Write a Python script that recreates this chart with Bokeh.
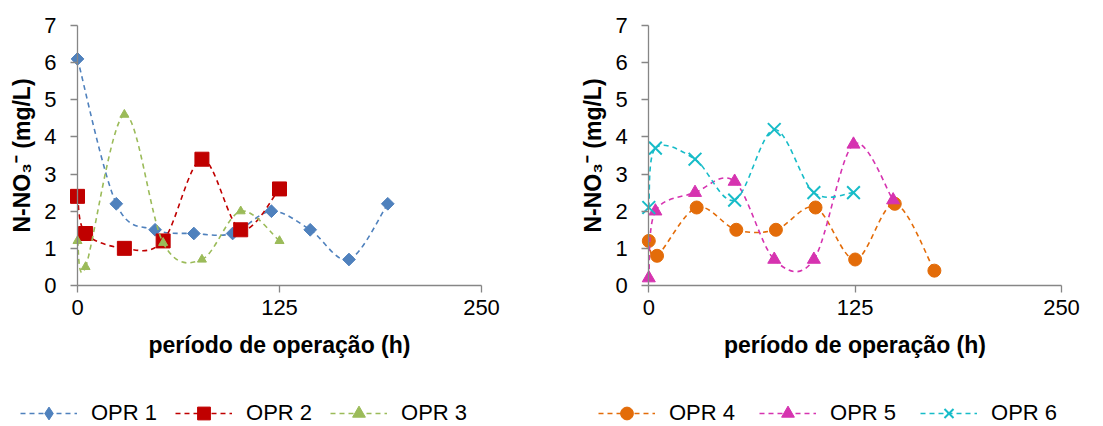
import math
from bokeh.plotting import figure
from bokeh.layouts import row
from bokeh.models import (Legend, LegendItem, FixedTicker, ColumnDataSource,
                          LinearAxis, Range1d)
from bokeh.embed import file_html
from bokeh.resources import INLINE

# ---- data ----
x_opr1 = [0, 24, 48, 72, 96, 120, 144, 168, 192]
y_opr1 = [6.1, 2.2, 1.5, 1.4, 1.4, 2.0, 1.5, 0.7, 2.2]
x_opr2 = [0, 5, 29, 53, 77, 101, 125]
y_opr2 = [2.4, 1.4, 1.0, 1.2, 3.4, 1.5, 2.6]
x_opr3 = [0, 5, 29, 53, 77, 101, 125]
y_opr3 = [1.2, 0.5, 4.6, 1.15, 0.7, 2.0, 1.2]
x_opr4 = [0, 5, 29, 53, 77, 101, 125, 149, 173]
y_opr4 = [1.2, 0.8, 2.1, 1.5, 1.5, 2.1, 0.7, 2.2, 0.4]
x_opr5 = [0, 4, 28, 52, 76, 100, 124, 148]
y_opr5 = [0.2, 2.0, 2.5, 2.8, 0.7, 0.7, 3.8, 2.3]
x_opr6 = [0, 4, 28, 52, 76, 100, 124]
y_opr6 = [2.1, 3.7, 3.4, 2.3, 4.2, 2.5, 2.5]

x_ticks = [0, 125, 250]
y_ticks = [0, 1, 2, 3, 4, 5, 6, 7]
x_lim = (0, 250)
y_lim = (0, 7)
x_title = "período de operação (h)"
y_title = "N-NO\u2083\u207b (mg/L)"

FONT = "Liberation Sans"
DASH = "5 4"
FIG_H = 426
NAN = float("nan")


def smooth_segments(xs, ys):
    """Catmull-Rom style Bezier control points (like Excel smoothed lines)."""
    n = len(xs)
    d = dict(x0=[], y0=[], x1=[], y1=[], cx0=[], cy0=[], cx1=[], cy1=[])
    for i in range(n - 1):
        p0 = (xs[max(i - 1, 0)], ys[max(i - 1, 0)])
        p1 = (xs[i], ys[i])
        p2 = (xs[i + 1], ys[i + 1])
        p3 = (xs[min(i + 2, n - 1)], ys[min(i + 2, n - 1)])
        d["x0"].append(p1[0]); d["y0"].append(p1[1])
        d["x1"].append(p2[0]); d["y1"].append(p2[1])
        d["cx0"].append(p1[0] + (p2[0] - p0[0]) / 6)
        d["cy0"].append(p1[1] + (p2[1] - p0[1]) / 6)
        d["cx1"].append(p2[0] - (p3[0] - p1[0]) / 6)
        d["cy1"].append(p2[1] - (p3[1] - p1[1]) / 6)
    return ColumnDataSource(d)


def make_fig(fig_w, plot_left, plot_right, plot_top, plot_bottom, series,
             leg_x, leg_spacing):
    # the frame fills the whole figure; the plot box sits at the given pixels
    xs_per_px = (x_lim[1] - x_lim[0]) / (plot_right - plot_left)
    ys_per_px = (y_lim[1] - y_lim[0]) / (plot_bottom - plot_top)
    xr = Range1d(x_lim[0] - plot_left * xs_per_px,
                 x_lim[1] + (fig_w - plot_right) * xs_per_px)
    yr = Range1d(y_lim[0] - (FIG_H - plot_bottom) * ys_per_px,
                 y_lim[1] + plot_top * ys_per_px)
    p = figure(width=fig_w, height=FIG_H, x_range=xr, y_range=yr,
               output_backend="svg", toolbar_location=None,
               x_axis_location=None, y_axis_location=None,
               min_border=0)
    p.outline_line_color = None
    p.grid.visible = False
    p.background_fill_color = "white"
    p.border_fill_color = "white"

    xa = LinearAxis(fixed_location=y_lim[0], bounds=x_lim,
                    ticker=FixedTicker(ticks=x_ticks), axis_label=x_title)
    ya = LinearAxis(fixed_location=x_lim[0], bounds=y_lim,
                    ticker=FixedTicker(ticks=y_ticks), axis_label=y_title)
    for ax in (xa, ya):
        ax.axis_line_color = "#868686"
        ax.axis_line_width = 1.3
        ax.major_tick_line_color = "#868686"
        ax.major_tick_line_width = 1.3
        ax.major_tick_in = 0
        ax.major_tick_out = 7
        ax.minor_tick_line_color = None
        ax.major_label_text_font = FONT
        ax.major_label_text_font_size = "22px"
        ax.major_label_text_color = "black"
        ax.axis_label_text_font = FONT
        ax.axis_label_text_font_size = "23px"
        ax.axis_label_text_font_style = "bold"
        ax.axis_label_text_color = "black"
    xa.major_label_standoff = 7
    ya.major_label_standoff = 14
    xa.axis_label_standoff = 14
    ya.axis_label_standoff = 6
    p.add_layout(xa, "below")
    p.add_layout(ya, "left")

    items = []
    for (xs, ys, name, color, marker, size, angle, lw, leg_marker) in series:
        src = smooth_segments(xs, ys)
        p.bezier(x0="x0", y0="y0", x1="x1", y1="y1", cx0="cx0", cy0="cy0",
                 cx1="cx1", cy1="cy1", source=src, line_color=color,
                 line_width=1.6, line_dash=DASH)
        # one-point line: invisible in the plot, gives the dashed legend sample
        leg_line = p.line(x=xs[:1], y=ys[:1], line_color=color, line_width=1.6,
                          line_dash=DASH)
        sc = p.scatter(x=xs, y=ys, marker=marker, size=size, angle=angle,
                       fill_color=color, line_color=color, line_width=lw)
        if leg_marker is not None:
            leg_sc = p.scatter(x=[NAN], y=[NAN], marker=leg_marker,
                               fill_color=color, line_color=color, line_width=lw)
        else:
            leg_sc = sc
        items.append(LegendItem(label=name, renderers=[leg_line, leg_sc]))

    leg = Legend(items=items, orientation="horizontal", location=(leg_x, -3),
                 glyph_width=57, glyph_height=32, label_standoff=14,
                 spacing=leg_spacing, padding=0, margin=0, border_line_color=None,
                 background_fill_alpha=0,
                 label_text_font=FONT, label_text_font_size="22px",
                 label_text_color="black")
    p.add_layout(leg)
    return p


left_series = [
    (x_opr1, y_opr1, "OPR 1", "#4F81BD", "square", 9, math.pi / 4, 1, "diamond"),
    (x_opr2, y_opr2, "OPR 2", "#C00000", "square", 14, 0, 1, None),
    (x_opr3, y_opr3, "OPR 3", "#9BBB59", "triangle", 9, 0, 1, None),
]
right_series = [
    (x_opr4, y_opr4, "OPR 4", "#E36C09", "circle", 13, 0, 1, None),
    (x_opr5, y_opr5, "OPR 5", "#D633B0", "triangle", 13, 0, 1, None),
    (x_opr6, y_opr6, "OPR 6", "#17BCC8", "x", 18, 0, 2, None),
]

p1 = make_fig(551, 77, 481, 25, 285, left_series, 20, 18)
p2 = make_fig(552, 97.3, 510, 25, 285, right_series, 47, 24)

layout = row(p1, p2, spacing=0)
open("out.html", "w").write(file_html(layout, INLINE))
